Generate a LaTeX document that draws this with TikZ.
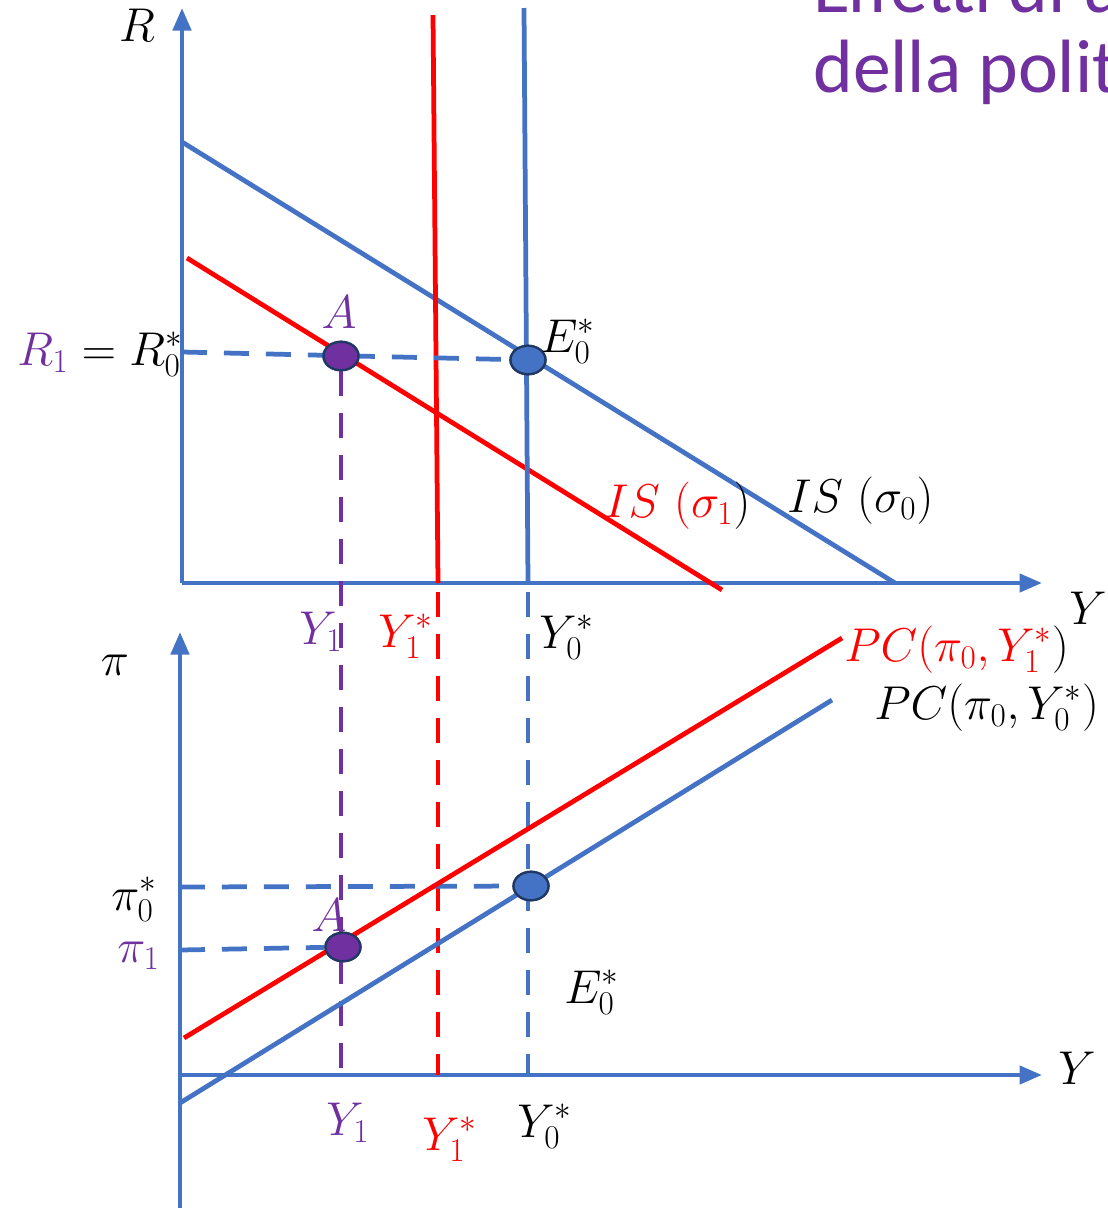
\RequirePackage{fix-cm}
\documentclass[tikz,border=0pt]{standalone}
\usepackage{fontspec}
\newfontfamily\titlefont{Carlito}
\usetikzlibrary{arrows.meta,shapes.geometric}
\definecolor{ablue}{HTML}{4472C4}
\definecolor{apurple}{HTML}{7030A0}
\definecolor{ared}{HTML}{FF0000}
\definecolor{anavy}{HTML}{1F3864}
\tikzset{
  axis/.style={ablue,line width=0.09cm,-{Triangle[length=0.45cm,width=0.36cm]}},
  curve/.style={line width=0.095cm},
  dsh/.style={line width=0.095cm,dash pattern=on 0.5cm off 0.34cm},
  dot/.style={ellipse,draw=anavy,line width=0.045cm,minimum width=0.7cm,minimum height=0.57cm,inner sep=0pt},
  lbl/.style={font=\fontsize{27}{32}\selectfont,inner sep=0pt},
}
\begin{document}
\begin{tikzpicture}[x=0.02cm,y=-0.02cm]
\clip (0,0) rectangle (1107,1211);
\fill[white] (0,0) rectangle (1107,1211);
% title
\node[anchor=base west,inner sep=0pt,text=apurple,font=\titlefont\fontsize{43}{50}\selectfont] (t1) at (813,12) {Effetti di un};
\node[anchor=base west,inner sep=0pt,text=apurple,font=\titlefont\fontsize{43}{50}\selectfont] (t2) at (813,92) {della politica};
% top panel coordinates
\coordinate (o1) at (182,583);
\coordinate (ytop) at (182,8);
\coordinate (xtop) at (1042,583);
\coordinate (is0a) at (182,142);
\coordinate (is0b) at (895,583);
\coordinate (is1a) at (187,258);
\coordinate (is1b) at (722,590);
\coordinate (v1a) at (433,15);
\coordinate (v1b) at (438,583);
\coordinate (v0a) at (524,8);
\coordinate (v0b) at (528,583);
\coordinate (rl) at (182,352);
% bottom panel coordinates
\coordinate (o2b) at (180,1208);
\coordinate (ybot) at (180,632);
\coordinate (x2a) at (180,1075);
\coordinate (xbot) at (1042,1075);
\coordinate (pc1a) at (184,1038);
\coordinate (pc1b) at (842,638);
\coordinate (pc0a) at (180,1103);
\coordinate (pc0b) at (832,700);
\coordinate (pil0) at (180,887);
\coordinate (pil1) at (180,950);
\coordinate (dA) at (341,1075);
\coordinate (dRa) at (438,592);
\coordinate (dRb) at (438,1075);
\coordinate (dBa) at (528,592);
\coordinate (dBb) at (528,1075);
% axes
\draw[axis] (o1) -- (ytop);
\draw[axis] (o1) -- (xtop);
\draw[axis] (o2b) -- (ybot);
\draw[axis] (x2a) -- (xbot);
% top curves
\draw[curve,ablue] (is0a) -- (is0b);
\draw[curve,ared] (is1a) -- (is1b);
\draw[curve,ared] (v1a) -- (v1b);
\draw[curve,ablue] (v0a) -- (v0b);
% dots
\node[dot,fill=apurple] (A1) at (341,356) {};
\node[dot,fill=ablue] (E1) at (528,360) {};
\node[dot,fill=apurple] (A2) at (343,947) {};
\node[dot,fill=ablue] (E2) at (531,886) {};
% dashed
\draw[dsh,ablue] (rl) -- (E1);
\draw[dsh,apurple] (A1) -- (dA);
\draw[dsh,ared] (dRa) -- (dRb);
\draw[dsh,ablue] (dBa) -- (dBb);
\draw[dsh,ablue] (pil0) -- (E2);
\draw[dsh,ablue] (pil1) -- (A2);
% bottom curves
\draw[curve,ared] (pc1a) -- (pc1b);
\draw[curve,ablue] (pc0a) -- (pc0b);
% redraw dots on top
\node[dot,fill=apurple] at (A1) {};
\node[dot,fill=ablue] at (E1) {};
\node[dot,fill=apurple] at (A2) {};
\node[dot,fill=ablue] at (E2) {};
% labels top
\node[lbl] (lR) at (137,25) {$R$};
\node[lbl,anchor=base west] (lR1) at (17,365) {$\color{apurple}R_1\color{black} = R_0^*$};
\node[lbl,anchor=base,text=apurple] (lA1) at (339,328) {$A$};
\node[lbl,anchor=base west] (lE1) at (540,352) {$E_0^*$};
\node[lbl,anchor=base west] (lIS1) at (604,517) {$\color{ared}IS\ (\sigma_1\color{black})$};
\node[lbl,anchor=base west] (lIS0) at (787,512) {$IS\ (\sigma_0)$};
\node[lbl] (lY1) at (1088,608) {$Y$};
\node[lbl,anchor=base west,text=apurple] (lYa) at (299,644) {$Y_1$};
\node[lbl,anchor=base west,text=ared] (lYb) at (378,647) {$Y_1^*$};
\node[lbl,anchor=base west] (lYc) at (539,648) {$Y_0^*$};
% labels bottom
\node[lbl] (lpi) at (115,665) {$\pi$};
\node[lbl,anchor=base west] (lPC1) at (844,661) {$\color{ared}PC(\pi_0,Y_1^*\color{black})$};
\node[lbl,anchor=base west] (lPC0) at (874,719) {$PC(\pi_0,Y_0^*)$};
\node[lbl,anchor=base west] (lpi0) at (111,910) {$\pi_0^*$};
\node[lbl,anchor=base west,text=apurple] (lpi1) at (117,962) {$\pi_1$};
\node[lbl,anchor=base,text=apurple] (lA2) at (329,931) {$A$};
\node[lbl,anchor=base west] (lE2) at (564,1003) {$E_0^*$};
\node[lbl] (lY2) at (1077,1068) {$Y$};
\node[lbl,anchor=base west,text=apurple] (lYd) at (326,1135) {$Y_1$};
\node[lbl,anchor=base west,text=ared] (lYe) at (422,1150) {$Y_1^*$};
\node[lbl,anchor=base west] (lYf) at (517,1137) {$Y_0^*$};
\end{tikzpicture}
\end{document}
